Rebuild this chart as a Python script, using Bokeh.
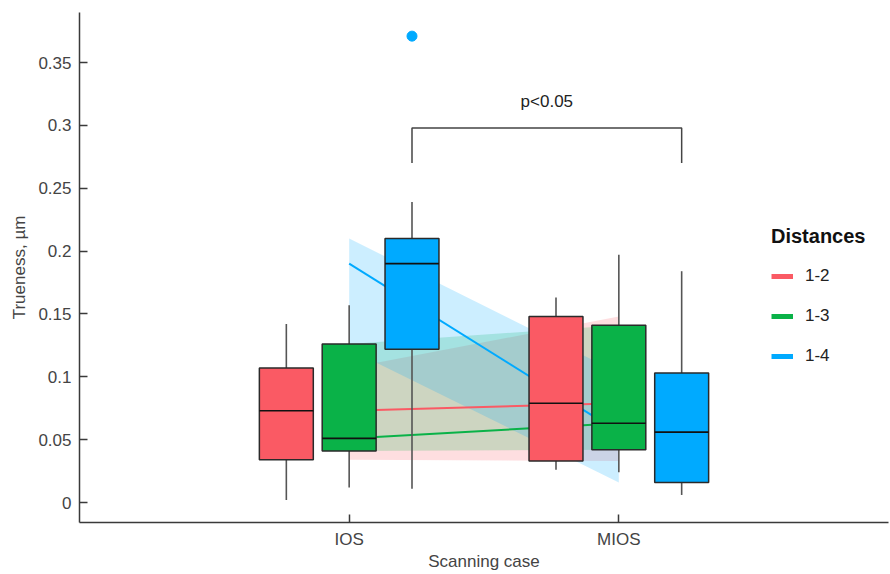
import numpy as np
from bokeh.plotting import figure
from bokeh.models import Range1d, FixedTicker, CustomJSTickFormatter, Legend, LegendItem
from bokeh.embed import file_html
from bokeh.resources import INLINE
from bokeh.core.properties import value

# ---------------- data ----------------
cases = ["IOS", "MIOS"]
distances = ["1-2", "1-3", "1-4"]
colors = ["#FA5A64", "#0AB248", "#00AAFF"]

# rows: distance (1-2, 1-3, 1-4); columns: case (IOS, MIOS)
whisker_low = [[0.002, 0.026], [0.012, 0.024], [0.011, 0.006]]
q1 = [[0.034, 0.033], [0.041, 0.042], [0.122, 0.016]]
median = [[0.073, 0.079], [0.051, 0.063], [0.190, 0.056]]
q3 = [[0.107, 0.148], [0.126, 0.141], [0.210, 0.103]]
whisker_high = [[0.142, 0.163], [0.157, 0.197], [0.239, 0.184]]

outlier_case = ["IOS"]
outlier_distance = ["1-4"]
outlier_value = [0.371]

y_ticks = [0, 0.05, 0.1, 0.15, 0.2, 0.25, 0.3, 0.35]
sig_label = "p<0.05"
sig_cases = ["IOS", "MIOS"]
sig_distance = "1-4"
sig_bracket_low = 0.270
sig_bracket_high = 0.298
sig_text_y = 0.319

x_title = "Scanning case"
y_title = "Trueness, µm"
legend_title = "Distances"

# ---------------- layout ----------------
FONT = "Liberation Sans"
case_pos = {c: i + 1 for i, c in enumerate(cases)}
dodge = 0.233
box_w = 0.2
offsets = {d: (i - 1) * dodge for i, d in enumerate(distances)}

p = figure(width=890, height=574, output_backend="svg", toolbar_location=None,
           x_range=Range1d(0, 3), y_range=Range1d(-0.0159, 0.3898),
           min_border_left=79, min_border_right=2, min_border_top=12, min_border_bottom=52)
p.outline_line_color = None
p.xgrid.visible = False
p.ygrid.visible = False
p.background_fill_color = "white"
p.border_fill_color = "white"

xs_cases = [case_pos[c] for c in cases]

# ribbons (Q1-Q3 band between the two cases)
for i, d in enumerate(distances):
    p.varea(x=xs_cases, y1=q1[i], y2=q3[i], fill_color=colors[i], fill_alpha=0.2)

# median trend lines
for i, d in enumerate(distances):
    p.line(x=xs_cases, y=median[i], line_color=colors[i], line_width=2)

# boxes
for i, d in enumerate(distances):
    bx = [case_pos[c] + offsets[d] for c in cases]
    p.segment(x0=bx, y0=whisker_low[i], x1=bx, y1=q1[i], line_color="#555555", line_width=1.6)
    p.segment(x0=bx, y0=q3[i], x1=bx, y1=whisker_high[i], line_color="#555555", line_width=1.6)
    p.vbar(x=bx, width=box_w, bottom=q1[i], top=q3[i], fill_color=colors[i],
           line_color="#2a2a2a", line_width=1.5)
    p.segment(x0=[x - box_w / 2 for x in bx], y0=median[i], x1=[x + box_w / 2 for x in bx],
              y1=median[i], line_color="#111111", line_width=1.6)

# outliers
ox = [case_pos[c] + offsets[d] for c, d in zip(outlier_case, outlier_distance)]
oc = [colors[distances.index(d)] for d in outlier_distance]
p.scatter(x=ox, y=outlier_value, size=10, fill_color=oc, line_color=oc)

# significance bracket
sx0 = case_pos[sig_cases[0]] + offsets[sig_distance]
sx1 = case_pos[sig_cases[1]] + offsets[sig_distance]
p.line(x=[sx0, sx0, sx1, sx1], y=[sig_bracket_low, sig_bracket_high, sig_bracket_high, sig_bracket_low],
       line_color="#444444", line_width=1.5)
p.text(x=[(sx0 + sx1) / 2], y=[sig_text_y], text=[sig_label], text_align="center",
       text_baseline="middle", text_font=value(FONT), text_font_size="17px", text_color="#222222")

# axes
p.xaxis.ticker = FixedTicker(ticks=xs_cases)
p.xaxis.major_label_overrides = {case_pos[c]: c for c in cases}
p.yaxis.ticker = FixedTicker(ticks=y_ticks)
p.yaxis.formatter = CustomJSTickFormatter(code="return String(Math.round(tick*100)/100);")
p.xaxis.axis_label = x_title
p.yaxis.axis_label = y_title
for ax in (p.xaxis[0], p.yaxis[0]):
    ax.axis_line_color = "#3a3a3a"
    ax.axis_line_width = 1.5
    ax.major_tick_line_color = "#3a3a3a"
    ax.major_tick_line_width = 1.5
    ax.major_tick_in = 8
    ax.major_tick_out = 0
    ax.minor_tick_line_color = None
    ax.major_label_text_font = FONT
    ax.major_label_text_font_size = "17px"
    ax.major_label_text_color = "#444444"
    ax.axis_label_text_font = FONT
    ax.axis_label_text_font_size = "17px"
    ax.axis_label_text_font_style = "normal"
    ax.axis_label_text_color = "#444444"
p.yaxis.major_label_standoff = 8
p.yaxis.axis_label_standoff = 6
p.xaxis.major_label_standoff = 7
p.xaxis.axis_label_standoff = 0

# legend
leg_items = []
for i, d in enumerate(distances):
    r = p.line(x=[np.nan], y=[np.nan], line_color=colors[i], line_width=5)
    leg_items.append(LegendItem(label=d, renderers=[r]))
legend = Legend(items=leg_items, title=legend_title, location=(692, 156))
legend.title_text_font = FONT
legend.title_text_font_size = "20px"
legend.title_text_font_style = "bold"
legend.title_text_color = "#111111"
legend.title_standoff = 18
legend.label_text_font = FONT
legend.label_text_font_size = "17px"
legend.label_text_color = "#222222"
legend.glyph_width = 22
legend.glyph_height = 20
legend.label_height = 20
legend.spacing = 20
legend.label_standoff = 12
legend.padding = 0
legend.margin = 0
legend.border_line_color = None
legend.background_fill_alpha = 0
p.add_layout(legend)

open("out.html", "w").write(file_html(p, INLINE))
